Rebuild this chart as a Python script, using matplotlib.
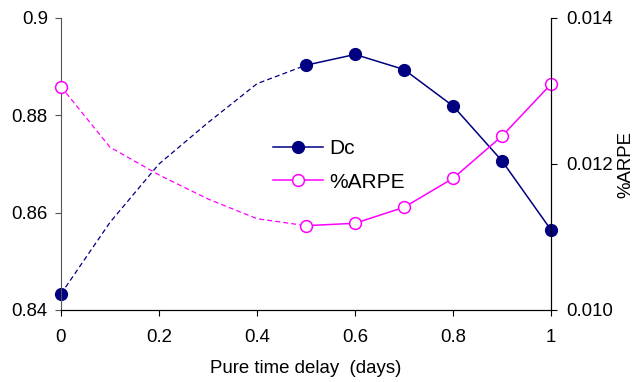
import matplotlib
matplotlib.use('Agg')
import matplotlib.pyplot as plt

plt.rcParams['font.family'] = ['Liberation Sans', 'DejaVu Sans']

# values
delay = [0, 0.1, 0.2, 0.3, 0.4, 0.5, 0.6, 0.7, 0.8, 0.9, 1.0]
dc = [0.8433, 0.8580, 0.8700, 0.8785, 0.8865, 0.8903, 0.8925, 0.8894, 0.8819, 0.8706, 0.8564]
arpe = [0.01306, 0.01223, 0.01185, 0.01152, 0.01125, 0.011155, 0.011188, 0.011407, 0.011804, 0.012384, 0.013096]

x_ticks = [0, 0.2, 0.4, 0.6, 0.8, 1.0]
x_labels = ['0', '0.2', '0.4', '0.6', '0.8', '1']
left_ticks = [0.84, 0.86, 0.88, 0.90]
left_labels = ['0.84', '0.86', '0.88', '0.9']
right_ticks = [0.010, 0.012, 0.014]
right_labels = ['0.010', '0.012', '0.014']

navy = '#000080'
magenta = '#FF00FF'

fig = plt.figure(figsize = (6.35, 3.82), dpi = 100)
ax = fig.add_axes([0.096, 0.1885, 0.772, 0.7645])
ax2 = ax.twinx()

# Dc: dashed part up to 0.5, solid with markers from 0.5
ax.plot(delay[:6], dc[:6], '--', color = navy, lw = 0.9, dashes = (4, 2.5))
ax.plot(delay[0], dc[0], 'o', color = navy, ms = 8.5, clip_on = False)
dc_line, = ax.plot(delay[5:], dc[5:], 'o-', color = navy, lw = 1.1, ms = 8.5,
                   clip_on = False, zorder = 4)

# %ARPE on the right axis
ax2.plot(delay[:6], arpe[:6], '--', color = magenta, lw = 0.9, dashes = (4, 2.5))
ax2.plot(delay[0], arpe[0], 'o', color = magenta, mfc = 'white', mew = 1.1, ms = 8.5,
         clip_on = False)
arpe_line, = ax2.plot(delay[5:], arpe[5:], 'o-', color = magenta, mfc = 'white', lw = 1.1,
                      mew = 1.1, ms = 8.5, clip_on = False)

ax.set_xlim(0, 1)
ax.set_ylim(0.84, 0.90)
ax2.set_ylim(0.010, 0.014)

ax.set_xticks(x_ticks)
ax.set_xticklabels(x_labels)
ax.set_yticks(left_ticks)
ax.set_yticklabels(left_labels)
ax2.set_yticks(right_ticks)
ax2.set_yticklabels(right_labels)

ax.tick_params(axis = 'x', length = 4.5, labelsize = 13.4, pad = 9.5)
ax.tick_params(axis = 'y', length = 4.5, labelsize = 13.4, pad = 5, color = '#555555')
ax2.tick_params(axis = 'y', length = 4.5, labelsize = 13.4, pad = 6)

for a in (ax, ax2):
    a.spines['top'].set_visible(False)
ax.spines['left'].set_color('#555555')
ax2.spines['left'].set_visible(False)

ax.set_xlabel('Pure time delay  (days)', fontsize = 13.4, labelpad = 10)
fig.text(0.986, 0.57, '%ARPE', rotation = 90, ha = 'center', va = 'center', fontsize = 13.4)

ax2.legend([dc_line, arpe_line], ['Dc', '%ARPE'], loc = 'upper left',
           bbox_to_anchor = (0.433, 0.585), frameon = False, fontsize = 15,
           borderpad = 0, borderaxespad = 0, handlelength = 2.4, handletextpad = 0.3,
           labelspacing = 0.7)

fig.savefig('out.png', dpi = 100)
